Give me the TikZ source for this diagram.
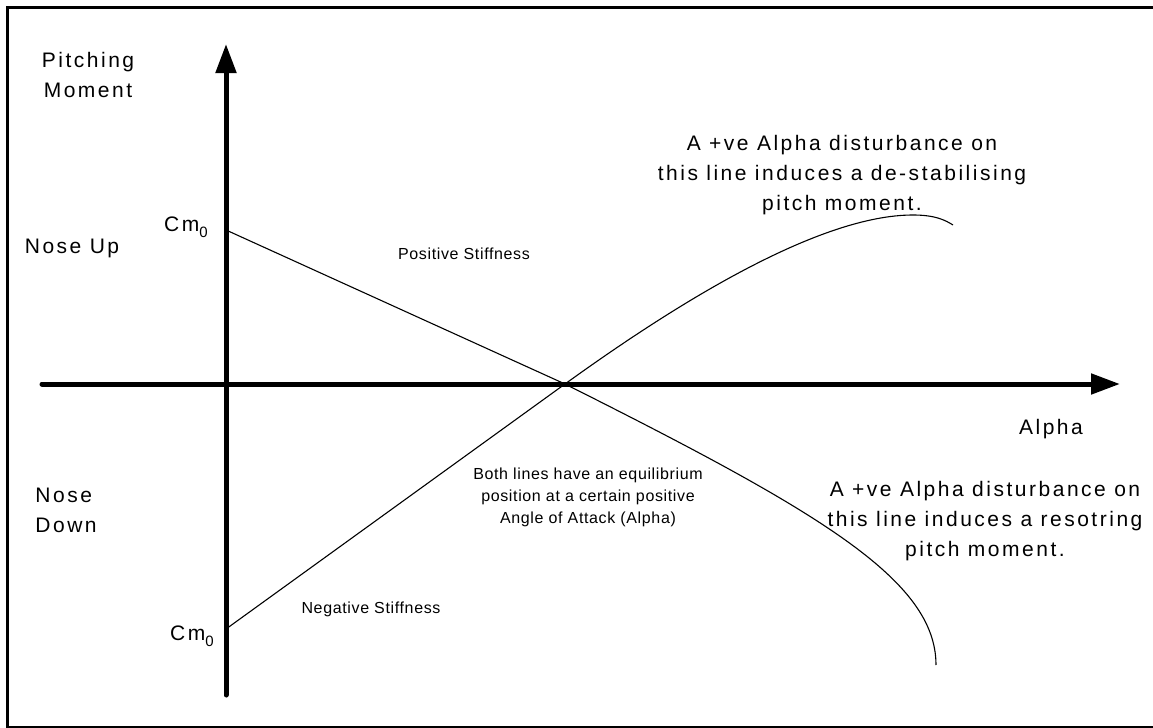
\documentclass[tikz,border=0pt]{standalone}
\usepackage{fontspec}
\setmainfont{Liberation Sans}
\newfontfamily\bigfont{Liberation Sans}[LetterSpace=12]
\newfontfamily\smallfont{Liberation Sans}[LetterSpace=4]
\usetikzlibrary{arrows.meta}
\newcommand\cmzero{Cm\raisebox{-3pt}{\fontsize{7.5pt}{8pt}\selectfont 0}}
\tikzset{
  axisline/.style={line width=2.5pt, line cap=round, -{Triangle[length=14.5pt,width=10pt]}},
  curveline/.style={line width=0.55pt},
  framebox/.style={line width=1.5pt},
  bigtext/.style={font={\bigfont\fontsize{10.5pt}{15pt}\selectfont}, inner sep=0pt},
  smalltext/.style={font={\smallfont\fontsize{8pt}{11pt}\selectfont}, inner sep=0pt}
}
\begin{document}
\begin{tikzpicture}[x=0.5pt, y=-0.5pt]
\useasboundingbox (0,0) rectangle (1153,728);
% frame (right side lies outside the picture, as in the reference)
\draw[framebox] (7.5,7.5) rectangle (1200,727.5);
% coordinates
\coordinate (xs) at (42,384);
\coordinate (xe) at (1120,384);
\coordinate (ys) at (226,695);
\coordinate (ye) at (226,44);
\coordinate (cu) at (226,230);
\coordinate (cl) at (226,629);
\coordinate (eq) at (565,384);
\coordinate (le) at (936,665);
\coordinate (pk) at (913,215);
\coordinate (ue) at (953,225);
% axes
\draw[axisline] (xs) -- (xe);
\draw[axisline] (ys) -- (ye);
% lines
\draw[curveline] (cu) -- (eq) .. controls (820,512) and (936,580) .. (le);
\draw[curveline] (cl) -- (eq) .. controls (680,301) and (820,215) .. (pk)
  .. controls (935,215) and (945,220) .. (ue);
% labels
\node[bigtext, align=center, anchor=north] (pm) at (88,52) {Pitching\\Moment};
\node[bigtext, anchor=base] (nu) at (72,253) {Nose Up};
\node[bigtext, align=left, anchor=north west] (nd) at (35,488) {Nose\\Down};
\node[bigtext, anchor=base] (cma) at (186,231) {\cmzero};
\node[bigtext, anchor=base] (cmb) at (192,640) {\cmzero};
\node[bigtext, anchor=base] (al) at (1051,434) {Alpha};
\node[smalltext, anchor=base] (ps) at (464,259.5) {Positive Stiffness};
\node[smalltext, anchor=base] (ns) at (371,613) {Negative Stiffness};
\node[smalltext, align=center, anchor=north] (both) at (588,468)
  {Both lines have an equilibrium\\position at a certain positive\\Angle of Attack (Alpha)};
\node[bigtext, align=center, anchor=north] (up) at (842,135)
  {A +ve Alpha disturbance on\\this line induces a de-stabilising\\pitch moment.};
\node[bigtext, align=center, anchor=north] (lo) at (985,481)
  {A +ve Alpha disturbance on\\this line induces a resotring\\pitch moment.};
\end{tikzpicture}
\end{document}
